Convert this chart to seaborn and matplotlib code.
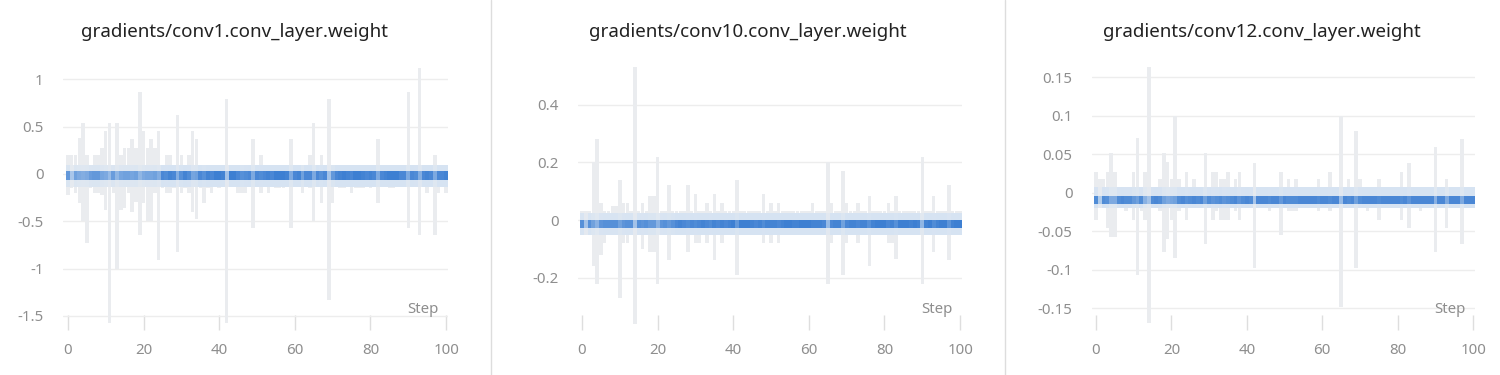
import matplotlib
matplotlib.use("Agg")
import matplotlib.pyplot as plt
import seaborn as sns
import numpy as np
import pandas as pd
from matplotlib.colors import to_rgb
from matplotlib.lines import Line2D

sns.set_theme(style="white")
plt.rcParams['font.family'] = ['Noto Sans', 'DejaVu Sans']

# ---------------- data ----------------
steps = list(range(101))
titles = ["gradients/conv1.conv_layer.weight",
          "gradients/conv10.conv_layer.weight",
          "gradients/conv12.conv_layer.weight"]
x_ticks = [0, 20, 40, 60, 80, 100]

# conv1: per-step histogram extent (max / min)
hi_conv1 = [0.2, 0.2, 0.2, 0.38, 0.54, 0.2, 0.1, 0.2, 0.2, 0.28,
            0.45, 0.54, 0.1, 0.54, 0.2, 0.28, 0.28, 0.37, 0.28, 0.87,
            0.45, 0.28, 0.37, 0.28, 0.45, 0.1, 0.2, 0.2, 0.1, 0.62,
            0.2, 0.1, 0.2, 0.45, 0.37, 0.1, 0.1, 0.1, 0.1, 0.1,
            0.1, 0.1, 0.79, 0.1, 0.1, 0.1, 0.1, 0.1, 0.1, 0.37,
            0.1, 0.2, 0.1, 0.1, 0.1, 0.1, 0.1, 0.1, 0.1, 0.37,
            0.1, 0.1, 0.1, 0.1, 0.2, 0.54, 0.1, 0.2, 0.1, 0.79,
            0.1, 0.1, 0.1, 0.1, 0.1, 0.1, 0.1, 0.1, 0.1, 0.1,
            0.1, 0.1, 0.37, 0.1, 0.1, 0.1, 0.1, 0.1, 0.1, 0.1,
            0.87, 0.1, 0.1, 1.12, 0.1, 0.1, 0.1, 0.2, 0.1, 0.1,
            0.1]
lo_conv1 = [-0.22, -0.15, -0.2, -0.31, -0.5, -0.73, -0.15, -0.2, -0.2, -0.22,
            -0.38, -1.57, -0.2, -1.0, -0.38, -0.36, -0.2, -0.4, -0.3, -0.65,
            -0.31, -0.5, -0.5, -0.2, -0.91, -0.15, -0.2, -0.2, -0.15, -0.82,
            -0.2, -0.15, -0.2, -0.4, -0.48, -0.15, -0.31, -0.15, -0.2, -0.12,
            -0.15, -0.12, -1.57, -0.12, -0.12, -0.2, -0.2, -0.2, -0.12, -0.57,
            -0.12, -0.2, -0.12, -0.2, -0.12, -0.15, -0.15, -0.15, -0.12, -0.57,
            -0.12, -0.12, -0.2, -0.12, -0.15, -0.5, -0.12, -0.31, -0.12, -1.33,
            -0.31, -0.12, -0.15, -0.15, -0.12, -0.2, -0.15, -0.15, -0.15, -0.12,
            -0.15, -0.12, -0.31, -0.12, -0.12, -0.15, -0.15, -0.12, -0.12, -0.12,
            -0.57, -0.12, -0.12, -0.65, -0.12, -0.2, -0.12, -0.65, -0.2, -0.12,
            -0.2]
dens_conv1 = [0.7, 0.15, 0.6, 0.5, 0.45, 0.5, 0.65, 0.7, 0.7, 0.55,
              0.5, 0.3, 0.65, 0.35, 0.55, 0.6, 0.6, 0.55, 0.6, 0.35,
              0.5, 0.55, 0.55, 0.6, 0.45,
              0.9, 0.85, 0.95, 0.9, 0.45, 0.8, 0.95, 0.85, 0.55, 0.6,
              0.9, 0.8, 0.95, 0.9, 1.0, 1.0, 0.95,
              0.2,
              1.0, 1.0, 0.9, 0.8, 0.85, 0.9, 0.5, 0.9, 0.85, 0.9,
              0.95, 0.9, 1.0, 1.0, 1.0, 0.95, 0.5, 0.9, 0.95, 0.6,
              0.9, 0.9, 0.5, 0.9, 0.8, 0.9,
              0.2,
              0.7, 0.9, 0.95, 1.0, 0.95, 0.9, 1.0, 1.0, 0.95, 0.9,
              0.95, 0.9, 0.5, 0.9, 0.95, 1.0, 1.0, 1.0, 0.9, 0.9,
              0.5, 0.9, 0.85, 0.45, 0.9, 0.95, 0.9, 0.5, 0.9, 0.9,
              0.95]

# conv10
hi_conv10 = [0.03, 0.03, 0.03, 0.2, 0.28, 0.06, 0.03, 0.03, 0.05, 0.05,
             0.14, 0.06, 0.06, 0.03, 0.53, 0.03, 0.06, 0.03, 0.085, 0.085,
             0.22, 0.03, 0.03, 0.12, 0.03, 0.03, 0.03, 0.03, 0.12, 0.03,
             0.09, 0.03, 0.03, 0.06, 0.03, 0.09, 0.03, 0.06, 0.03, 0.03,
             0.03, 0.14, 0.03, 0.03, 0.03, 0.03, 0.03, 0.03, 0.09, 0.03,
             0.06, 0.03, 0.06, 0.03, 0.03, 0.03, 0.03, 0.03, 0.03, 0.03,
             0.03, 0.06, 0.03, 0.03, 0.03, 0.2, 0.06, 0.03, 0.03, 0.17,
             0.06, 0.03, 0.03, 0.06, 0.03, 0.03, 0.085, 0.03, 0.03, 0.03,
             0.03, 0.06, 0.03, 0.085, 0.03, 0.03, 0.03, 0.03, 0.03, 0.03,
             0.22, 0.03, 0.03, 0.085, 0.03, 0.03, 0.03, 0.12, 0.03, 0.03,
             0.03]
lo_conv10 = [-0.05, -0.05, -0.05, -0.16, -0.22, -0.12, -0.08, -0.05, -0.05, -0.05,
             -0.27, -0.08, -0.08, -0.05, -0.36, -0.05, -0.1, -0.05, -0.11, -0.11,
             -0.22, -0.05, -0.05, -0.14, -0.05, -0.05, -0.05, -0.05, -0.11, -0.05,
             -0.08, -0.08, -0.05, -0.08, -0.05, -0.14, -0.05, -0.08, -0.05, -0.05,
             -0.05, -0.19, -0.05, -0.05, -0.05, -0.05, -0.05, -0.05, -0.08, -0.05,
             -0.08, -0.05, -0.08, -0.05, -0.05, -0.05, -0.05, -0.05, -0.05, -0.05,
             -0.05, -0.05, -0.05, -0.05, -0.05, -0.22, -0.08, -0.05, -0.05, -0.19,
             -0.08, -0.05, -0.05, -0.08, -0.05, -0.05, -0.16, -0.05, -0.05, -0.05,
             -0.05, -0.08, -0.08, -0.135, -0.05, -0.05, -0.05, -0.05, -0.05, -0.05,
             -0.22, -0.05, -0.05, -0.11, -0.05, -0.05, -0.05, -0.14, -0.05, -0.05,
             -0.05]
dens_conv10 = [0.8, 0.2, 0.8, 0.6, 0.4, 0.75, 0.8, 0.8, 0.8, 0.8,
               0.6, 0.75, 0.8, 0.8, 0.2, 0.8, 0.75, 0.8, 0.7, 0.7,
               0.4, 0.75, 0.8, 0.7, 0.8,
               0.9, 0.95, 0.9, 0.85, 0.9, 0.85, 0.9, 0.95, 0.9, 0.85,
               0.95, 0.9, 0.95, 0.9, 0.95, 1.0,
               0.7, 1.0, 1.0, 1.0, 0.95, 0.9, 0.95, 0.85, 0.95, 0.95,
               0.95, 0.9, 0.95, 1.0, 1.0, 0.95, 0.95, 1.0, 1.0, 1.0,
               0.95, 0.95, 0.95, 0.9,
               0.3,
               0.9, 0.95, 0.95, 0.6, 0.9, 0.95, 0.95, 0.9, 0.95, 0.95,
               0.8, 0.95, 1.0, 1.0, 1.0, 0.9, 0.95, 0.8, 1.0, 1.0,
               1.0, 0.95, 1.0, 0.95, 0.35, 0.95, 1.0, 0.85, 0.95, 1.0,
               1.0, 0.75, 0.95, 1.0, 1.0]

# conv12
hi_conv12 = [0.027, 0.018, 0.018, 0.027, 0.052, 0.027, 0.008, 0.008, 0.008, 0.008,
             0.027, 0.071, 0.008, 0.027, 0.164, 0.008, 0.008, 0.018, 0.052, 0.04,
             0.018, 0.1, 0.018, 0.008, 0.027, 0.008, 0.018, 0.008, 0.008, 0.052,
             0.008, 0.027, 0.027, 0.018, 0.018, 0.027, 0.008, 0.018, 0.027, 0.008,
             0.008, 0.008, 0.039, 0.008, 0.008, 0.008, 0.008, 0.008, 0.008, 0.027,
             0.008, 0.018, 0.008, 0.018, 0.008, 0.008, 0.008, 0.008, 0.008, 0.018,
             0.008, 0.008, 0.027, 0.008, 0.008, 0.1, 0.008, 0.018, 0.008, 0.08,
             0.018, 0.008, 0.008, 0.008, 0.008, 0.018, 0.008, 0.008, 0.008, 0.008,
             0.008, 0.027, 0.008, 0.039, 0.008, 0.008, 0.008, 0.008, 0.008, 0.008,
             0.06, 0.008, 0.008, 0.018, 0.008, 0.008, 0.008, 0.07, 0.008, 0.008,
             0.008]
lo_conv12 = [-0.035, -0.014, -0.014, -0.045, -0.057, -0.057, -0.014, -0.014, -0.024, -0.014,
             -0.035, -0.106, -0.024, -0.035, -0.169, -0.014, -0.014, -0.024, -0.077, -0.06,
             -0.035, -0.085, -0.024, -0.014, -0.035, -0.014, -0.014, -0.014, -0.014, -0.066,
             -0.014, -0.035, -0.024, -0.035, -0.035, -0.035, -0.014, -0.024, -0.035, -0.014,
             -0.014, -0.014, -0.098, -0.014, -0.014, -0.014, -0.024, -0.014, -0.014, -0.055,
             -0.014, -0.024, -0.024, -0.024, -0.014, -0.014, -0.014, -0.014, -0.014, -0.024,
             -0.014, -0.014, -0.024, -0.014, -0.014, -0.148, -0.014, -0.014, -0.014, -0.098,
             -0.014, -0.014, -0.024, -0.014, -0.014, -0.035, -0.014, -0.014, -0.014, -0.014,
             -0.014, -0.035, -0.014, -0.045, -0.014, -0.014, -0.024, -0.014, -0.014, -0.014,
             -0.077, -0.014, -0.014, -0.045, -0.014, -0.014, -0.014, -0.066, -0.014, -0.014,
             -0.014]
dens_conv12 = [0.85, 0.1, 0.85, 0.8, 0.5, 0.5, 0.85, 0.9, 0.85, 0.85,
               0.7, 0.6, 0.85, 0.4, 0.2, 0.85, 0.9, 0.85, 0.6, 0.5,
               0.55, 0.6, 0.85, 0.9, 0.8,
               0.85, 0.9, 0.85, 0.9, 0.6, 0.85, 0.75, 0.8, 0.85, 0.75,
               0.8, 0.85, 0.9, 0.75, 0.85, 0.9, 0.85,
               0.15,
               0.9, 0.9, 0.9, 0.85, 0.9, 0.9, 0.7, 0.9, 0.85, 0.85,
               0.85, 0.9, 0.9, 0.9, 0.9, 0.9, 0.85, 0.9, 0.9, 0.85,
               0.9, 0.9,
               0.3,
               0.9, 0.85, 0.9, 0.6, 0.85, 0.9, 0.9, 0.9, 0.9, 0.85,
               0.9, 0.9, 0.9, 0.9, 0.9, 0.85, 0.9, 0.75, 0.9, 0.9,
               0.9, 0.9, 0.9, 0.9, 0.4, 0.9, 0.9, 0.5, 0.9, 0.9,
               0.9, 0.5, 0.9, 0.9, 0.9]

# dense core / halo value bands of each histogram
core_bands = [(-0.06, 0.03), (-0.028, 0.0), (-0.014, -0.004)]
halo_bands = [(-0.14, 0.1), (-0.052, 0.024), (-0.02, 0.008)]
y_ticks = [[-1.5, -1, -0.5, 0, 0.5, 1],
           [-0.2, 0, 0.2, 0.4],
           [-0.15, -0.1, -0.05, 0, 0.05, 0.1, 0.15]]
y_tick_labels = [["-1.5", "-1", "-0.5", "0", "0.5", "1"],
                 ["-0.2", "0", "0.2", "0.4"],
                 ["-0.15", "-0.1", "-0.05", "0", "0.05", "0.1", "0.15"]]
y_limits = [(-1.649, 1.205), (-0.381, 0.555), (-0.178, 0.1727)]

his = [hi_conv1, hi_conv10, hi_conv12]
los = [lo_conv1, lo_conv10, lo_conv12]
dens = [dens_conv1, dens_conv10, dens_conv12]

# ---------------- style ----------------
GRAY = "#eaecef"
HALO = "#d6e3f2"
LIGHT = "#bcd3ee"
DARK = "#3d7fd2"
TICK_C = "#8e8e8e"


def mix(a, b, t):
    a = np.array(to_rgb(a)); b = np.array(to_rgb(b))
    return tuple(a * (1 - t) + b * t)


fig = plt.figure(figsize=(15, 3.75), dpi=100)
fig.patch.set_facecolor("white")

lefts = [63 / 1500, 578 / 1500, 1092 / 1500]
widths = [385 / 1500, 384 / 1500, 383 / 1500]
xlims = [(-1.3, 100.5), (-1.06, 100.5), (-1.06, 100.5)]
title_x = [234 / 1500, 747.5 / 1500, 1261.5 / 1500]

for i in range(3):
    ax = fig.add_axes([lefts[i], 0.12, widths[i], 0.72])
    df = pd.DataFrame({"step": steps, "hi": his[i], "lo": los[i], "d": dens[i]})
    ax.bar(df["step"], df["hi"] - df["lo"], bottom=df["lo"], width=0.92,
           color=GRAY, linewidth=0, zorder=2)
    hb, ht = halo_bands[i]
    ax.bar(df["step"], ht - hb, bottom=hb, width=1.0,
           color=[mix(GRAY, HALO, min(1, d + 0.1)) for d in df["d"]],
           linewidth=0, zorder=3)
    cb, ct = core_bands[i]
    ax.bar(df["step"], ct - cb, bottom=cb, width=1.0,
           color=[mix(LIGHT, DARK, d) for d in df["d"]],
           linewidth=0, zorder=4)

    ax.set_xlim(*xlims[i])
    ax.set_ylim(*y_limits[i])
    ax.set_yticks(y_ticks[i])
    ax.set_yticklabels(y_tick_labels[i])
    ax.set_xticks(x_ticks)
    ax.set_xticklabels([str(t) for t in x_ticks])
    ax.yaxis.grid(True, color="#ededed", linewidth=1, zorder=0)
    ax.xaxis.grid(False)
    ax.set_axisbelow(True)
    for s in ax.spines.values():
        s.set_visible(False)
    ax.tick_params(axis="y", length=0, pad=14, labelsize=10.8, labelcolor=TICK_C)
    ax.tick_params(axis="x", direction="in", length=10.5, width=1, color="#dedede",
                   pad=9, labelsize=10.8, labelcolor=TICK_C, bottom=True)
    ax.text(0.975, 0.075, "Step", transform=ax.transAxes, ha="right", va="center",
            fontsize=10.8, color=TICK_C)
    fig.text(title_x[i], 0.915, titles[i], ha="center", va="center",
             fontsize=13.5, color="#222222")

for xs in [491 / 1500, 1005 / 1500]:
    fig.add_artist(Line2D([xs, xs], [0, 1], transform=fig.transFigure,
                          color="#dddddd", linewidth=1))

fig.savefig("out.png", dpi=100, facecolor="white")
